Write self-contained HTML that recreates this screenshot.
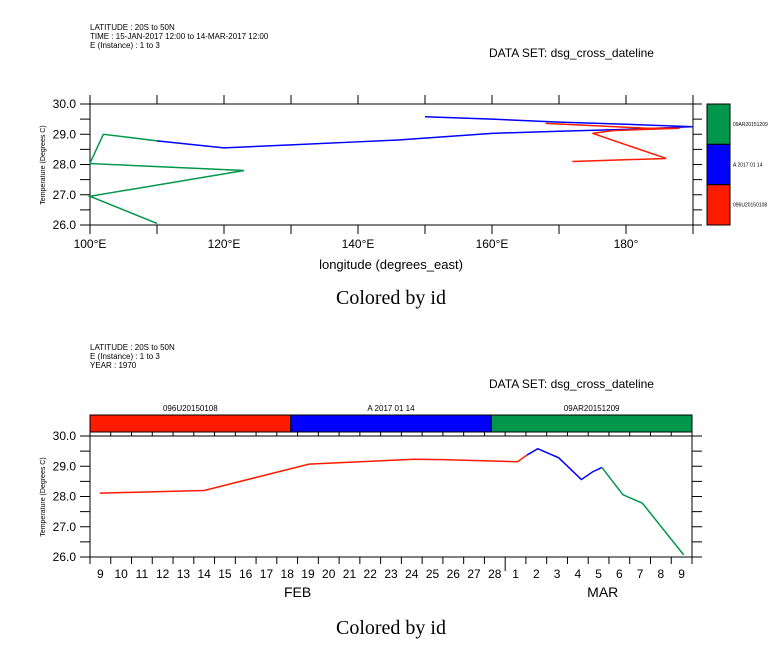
<!DOCTYPE html>
<html><head><meta charset="utf-8">
<style>
body{margin:0;background:#fff;}
svg{display:block;font-family:"Liberation Sans",sans-serif;}
</style></head>
<body>
<svg id="chart" width="768" height="662" viewBox="0 0 768 662" xmlns="http://www.w3.org/2000/svg">
<rect width="768" height="662" fill="#fff"/>
<g font-size="8" fill="#000">
<text x="90" y="30">LATITUDE : 20S to 50N</text>
<text x="90" y="39">TIME : 15-JAN-2017 12:00 to 14-MAR-2017 12:00</text>
<text x="90" y="48">E (Instance) : 1 to 3</text>
</g>
<text x="489" y="57" font-size="12">DATA SET: dsg_cross_dateline</text>
<g font-size="8" fill="#000">
<text x="90" y="350">LATITUDE : 20S to 50N</text>
<text x="90" y="359">E (Instance) : 1 to 3</text>
<text x="90" y="368">YEAR : 1970</text>
</g>
<text x="489" y="388" font-size="12">DATA SET: dsg_cross_dateline</text>
<text x="391" y="304" font-size="20" text-anchor="middle" font-family="Liberation Serif,serif">Colored by id</text>
<text x="391" y="634" font-size="20" text-anchor="middle" font-family="Liberation Serif,serif">Colored by id</text>
<g id="top"></g>
<g id="bot"></g>
</svg>
<script>
// ---- top chart data ----
const topGreenLon=[110,100,123,100,100,102,110];
const topGreenTemp=[26.05,26.95,27.8,28.03,28.05,29.0,28.78];
const topBlueLon=[110,120,130,140,146,160,170,180,190,180,170,160,150];
const topBlueTemp=[28.78,28.55,28.65,28.75,28.81,29.03,29.1,29.16,29.25,29.33,29.4,29.5,29.58];
const topRedLon=[172,186,175,178,188,183,168];
const topRedTemp=[28.1,28.2,29.03,29.12,29.2,29.2,29.36];
const topXTicks=[100,120,140,160,180];
const topXTickLabels=["100°E","120°E","140°E","160°E","180°"];
const yTicks=[26,27,28,29,30];
const yTickLabels=["26.0","27.0","28.0","29.0","30.0"];
const legendLabels=["09AR20151209","A 2017 01 14","096U20150108"];
// ---- bottom chart data ----
const dayLabels=["9","10","11","12","13","14","15","16","17","18","19","20","21","22","23","24","25","26","27","28","1","2","3","4","5","6","7","8","9"];
const botRedT=[0.47,3.8,5.5,10.55,13,15.6,17,20.6,21.05];
const botRedTemp=[28.11,28.17,28.2,29.07,29.15,29.23,29.22,29.15,29.37];
const botBlueT=[21.05,21.57,22.58,23.67,24.2,24.66];
const botBlueTemp=[29.37,29.58,29.28,28.56,28.81,28.96];
const botGreenT=[24.66,25.67,26.61,28.6];
const botGreenTemp=[28.96,28.06,27.78,26.07];
const bandLabels=["096U20150108","A 2017 01 14","09AR20151209"];

const NS="http://www.w3.org/2000/svg";
function mk(parent,tag,attrs){const e=document.createElementNS(NS,tag);for(const k in attrs)e.setAttribute(k,attrs[k]);parent.appendChild(e);return e;}
const RED="#ff1a00",BLUE="#0000ff",GREEN="#00964b";

// top chart
const T=document.getElementById('top');
const tx=l=>90+(l-100)*(603/90);
const ty=v=>225-(v-26)*(121/4);
function frame(g,x0,y0,x1,y1,name){const r=mk(g,'rect',{x:x0,y:y0,width:x1-x0,height:y1-y0,fill:'none',stroke:'#000','stroke-width':1});}
frame(T,90,104,693,225,'top-plot-frame');
for(let l=100;l<=190;l+=10){const x=tx(l);
 const a=mk(T,'line',{x1:x,y1:104,x2:x,y2:95,stroke:'#000'});
 const b=mk(T,'line',{x1:x,y1:225,x2:x,y2:234,stroke:'#000'});}
for(let v=26;v<=30;v+=0.5){const y=ty(v);
 const a=mk(T,'line',{x1:80,y1:y,x2:90,y2:y,stroke:'#000'});
 const b=mk(T,'line',{x1:693,y1:y,x2:702,y2:y,stroke:'#000'});}
topXTicks.forEach((l,i)=>{const t=mk(T,'text',{x:tx(l),y:248,'font-size':12,'text-anchor':'middle'});t.textContent=topXTickLabels[i];});
yTicks.forEach((v,i)=>{const t=mk(T,'text',{x:76,y:ty(v)+4,'font-size':12,'text-anchor':'end'});t.textContent=yTickLabels[i];});
{const t=mk(T,'text',{x:391,y:269,'font-size':13,'text-anchor':'middle'});t.textContent='longitude (degrees_east)';}
{const t=mk(T,'text',{x:0,y:0,'font-size':7,'text-anchor':'middle',transform:'translate(45,165) rotate(-90)'});t.textContent='Temperature (Degrees C)';}
function poly(g,xs,ys,fx,fy,col,name){const p=mk(g,'polyline',{points:xs.map((x,i)=>fx(x)+','+fy(ys[i])).join(' '),fill:'none',stroke:col,'stroke-width':1.5});}
poly(T,topBlueLon,topBlueTemp,tx,ty,BLUE,'top-series-a20170114');
poly(T,topRedLon,topRedTemp,tx,ty,RED,'top-series-096u20150108');
poly(T,topGreenLon,topGreenTemp,tx,ty,GREEN,'top-series-09ar20151209');
// colorbar legend
[GREEN,BLUE,RED].forEach((c,i)=>{const y0=104+i*121/3;
 const r=mk(T,'rect',{x:707,y:y0,width:23,height:121/3,fill:c,stroke:'#000'});
 const t=mk(T,'text',{x:733,y:y0+22,'font-size':5});t.textContent=legendLabels[i];});

// bottom chart
const B=document.getElementById('bot');
const bx=t=>90+t*(602/29);
const by=v=>557-(v-26)*(121/4);
// color band
[RED,BLUE,GREEN].forEach((c,i)=>{const x0=90+i*602/3;
 const r=mk(B,'rect',{x:x0,y:415,width:602/3,height:17,fill:c,stroke:'#000'});
 const t=mk(B,'text',{x:x0+301/3,y:411,'font-size':8,'text-anchor':'middle'});t.textContent=bandLabels[i];});
frame(B,90,436,692,557,'bottom-plot-frame');
for(let d=0;d<=29;d++){const x=bx(d);
 const a=mk(B,'line',{x1:x,y1:432,x2:x,y2:436,stroke:'#000'});
 const len=(d===20)?14:7;
 const b=mk(B,'line',{x1:x,y1:557,x2:x,y2:557+len,stroke:'#000'});}
for(let v=26;v<=30;v+=0.5){const y=by(v);
 const a=mk(B,'line',{x1:80,y1:y,x2:90,y2:y,stroke:'#000'});
 const b=mk(B,'line',{x1:692,y1:y,x2:702,y2:y,stroke:'#000'});}
dayLabels.forEach((s,i)=>{const t=mk(B,'text',{x:bx(i+0.5),y:578,'font-size':12,'text-anchor':'middle'});t.textContent=s;});
{const t=mk(B,'text',{x:bx(10),y:597,'font-size':14,'text-anchor':'middle'});t.textContent='FEB';}
{const t=mk(B,'text',{x:bx(24.7),y:597,'font-size':14,'text-anchor':'middle'});t.textContent='MAR';}
yTicks.forEach((v,i)=>{const t=mk(B,'text',{x:76,y:by(v)+4,'font-size':12,'text-anchor':'end'});t.textContent=yTickLabels[i];});
{const t=mk(B,'text',{x:0,y:0,'font-size':7,'text-anchor':'middle',transform:'translate(45,497) rotate(-90)'});t.textContent='Temperature (Degrees C)';}
poly(B,botRedT,botRedTemp,bx,by,RED,'bottom-series-096u20150108');
poly(B,botBlueT,botBlueTemp,bx,by,BLUE,'bottom-series-a20170114');
poly(B,botGreenT,botGreenTemp,bx,by,GREEN,'bottom-series-09ar20151209');
</script>
</body></html>
